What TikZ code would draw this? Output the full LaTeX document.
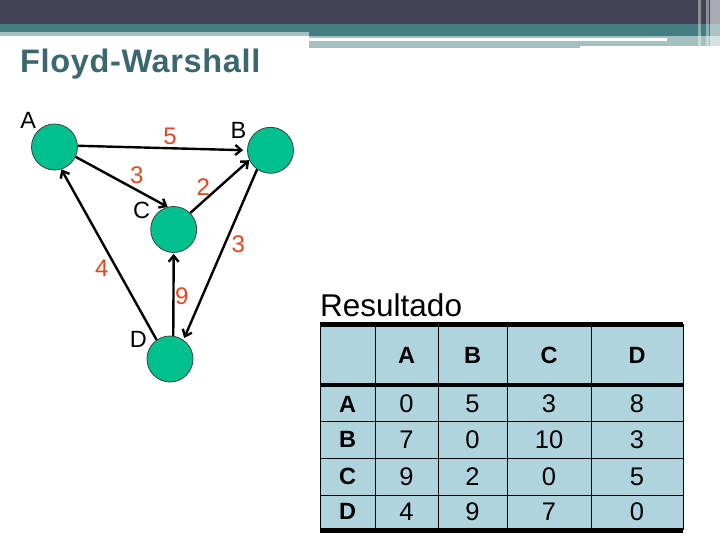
\documentclass[tikz,border=0pt]{standalone}
\usepackage{fontspec}
\setmainfont{Liberation Sans}
\newfontfamily\titlefont[LetterSpace=2]{Liberation Sans}
\usepackage{tikz}
\usetikzlibrary{shapes,arrows,arrows.meta}
\usetikzlibrary{positioning}

\definecolor{bannerdark}{RGB}{67,67,86}
\definecolor{bandteal}{RGB}{69,126,130}
\definecolor{bandlight}{RGB}{166,192,194}
\definecolor{titleteal}{RGB}{59,104,110}
\definecolor{nodegreen}{RGB}{0,192,142}
\definecolor{weightred}{RGB}{224,72,32}
\definecolor{cellblue}{RGB}{176,212,222}

\tikzset{
  vertex/.style={circle,draw=black!75,line width=0.8pt,fill=nodegreen,minimum size=46pt,inner sep=0pt},
  edge/.style={line width=2.4pt,-{Straight Barb[length=6pt,width=10pt]}},
  lbl/.style={font=\fontsize{23.5}{25}\selectfont,inner sep=0pt},
  weight/.style={font=\fontsize{24}{26}\selectfont,inner sep=0pt,text=weightred},
  cell/.style={font=\fontsize{25.5}{27}\selectfont,inner sep=0pt},
  hcell/.style={font=\fontsize{23.5}{25}\selectfont\bfseries,inner sep=0pt}
}

\begin{document}
\begin{tikzpicture}[x=1pt,y=-1pt]
\useasboundingbox (0,0) rectangle (720,540);

% banner
\fill[bannerdark] (0,0) rectangle (720,24);
\fill[bandteal] (0,24) rectangle (720,36);
\fill[bandlight] (0,32) rectangle (309,36);
\fill[bandlight] (309,36) rectangle (720,46);
\fill[bandlight] (309,46) rectangle (580,48.5);
\fill[white] (309,38.5) rectangle (667,41.5);
\fill[white,opacity=0.55] (710,0) rectangle (720,48);
\fill[white,opacity=0.4] (698,0) rectangle (700.5,48);
\fill[white,opacity=0.4] (706,0) rectangle (708.5,48);

\node[anchor=base west,inner sep=0pt,text=titleteal,font=\titlefont\bfseries\fontsize{32.5}{36}\selectfont] (title) at (20,73) {Floyd-Warshall};

% graph
\node[vertex] (A) at (54.5,147) {};
\node[vertex] (B) at (270.5,150.3) {};
\node[vertex] (C) at (173.7,229.5) {};
\node[vertex] (D) at (170,359) {};

\node[lbl] (lA) at (28.3,120.5) {A};
\node[lbl] (lB) at (238.5,130.5) {B};
\node[lbl] (lC) at (141.7,210) {C};
\node[lbl] (lD) at (138.3,339) {D};

\draw[edge,shorten >=4pt] (A.3) -- (B.180);
\draw[edge] (A.-25) -- (C.105);
\draw[edge] (C.45) -- (B.205);
\draw[edge,shorten >=2pt] (B.235) -- (D.55);
\draw[edge,shorten >=1pt] (D.82) -- (C.south);
\draw[edge] (D.125) -- (A.-73);

\node[weight] (wAB) at (170,136.6) {5};
\node[weight] (wAC) at (136.7,175) {3};
\node[weight] (wCB) at (203.3,186.7) {2};
\node[weight] (wBD) at (238.3,244) {3};
\node[weight] (wDA) at (101.7,268.3) {4};
\node[weight] (wDC) at (181.7,296.7) {9};

% result table
\node[anchor=base west,inner sep=0pt,font=\fontsize{31.5}{36}\selectfont] (res) at (320,316) {Resultado};

\fill[cellblue] (320,323) rectangle (683,531);
\foreach \y in {421,458,495}
  \draw[line width=0.9pt] (320,\y) -- (683,\y);
\foreach \x in {320,375,438,507,591,683}
  \draw[line width=0.9pt] (\x,324) -- (\x,530);
\draw[line width=5pt] (320,324.5) -- (683,324.5);
\draw[line width=4pt] (320,385) -- (683,385);
\draw[line width=5pt] (320,530.5) -- (683,530.5);

\foreach \c/\x in {A/406.5,B/472.5,C/549,D/637}
  \node[hcell] (h\c) at (\x,355.5) {\c};

\foreach \r/\y/\a/\b/\c/\d in {A/404/0/5/3/8,B/439.5/7/0/10/3,C/476.5/9/2/0/5,D/511.5/4/9/7/0}{
  \node[hcell] (r\r) at (347.5,\y) {\r};
  \node[cell] (\r-A) at (406.5,\y) {\a};
  \node[cell] (\r-B) at (472.5,\y) {\b};
  \node[cell] (\r-C) at (549,\y) {\c};
  \node[cell] (\r-D) at (637,\y) {\d};
}
\end{tikzpicture}
\end{document}
